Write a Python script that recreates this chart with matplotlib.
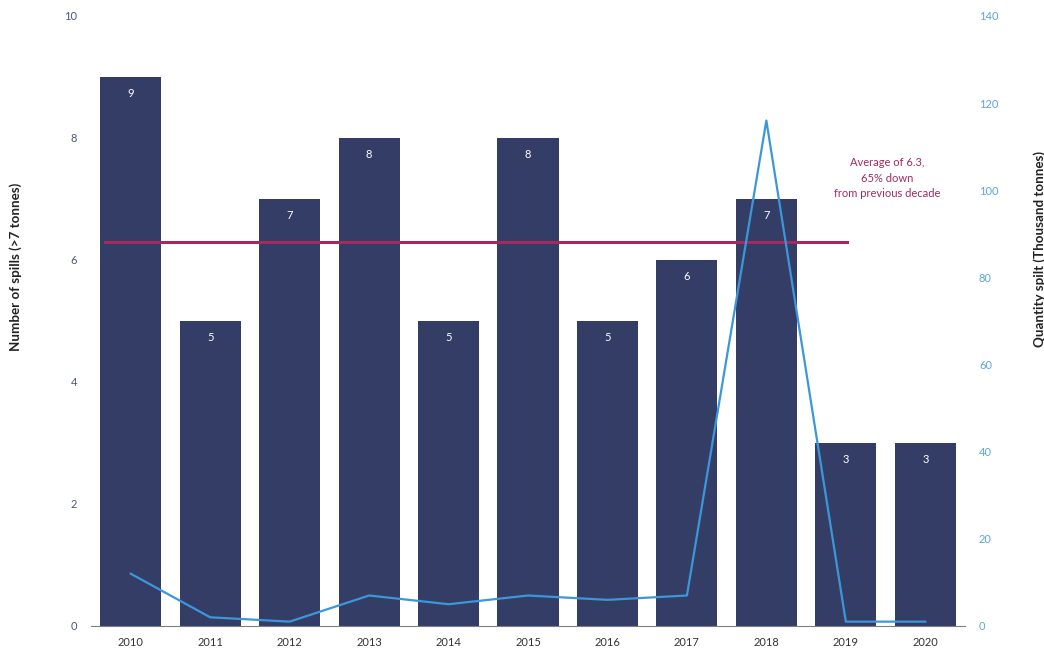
import numpy as np
import matplotlib
matplotlib.use("Agg")
import matplotlib.pyplot as plt

plt.rcParams['font.family'] = ['Lato', 'DejaVu Sans']

years = ['2010', '2011', '2012', '2013', '2014', '2015', '2016', '2017', '2018', '2019', '2020']
spills = [9, 5, 7, 8, 5, 8, 5, 6, 7, 3, 3]
quantity = [12, 2, 1, 7, 5, 7, 6, 7, 116, 1, 1]
average = 6.3
avg_text = "Average of 6.3,\n65% down\nfrom previous decade"

bar_color = '#343d66'
line_color = '#3b97d9'
avg_color = '#a3295f'
left_tick_color = '#4a5585'
right_tick_color = '#5aa5df'

fig = plt.figure(figsize=(10.44, 6.49), dpi=100)
ax = fig.add_axes([91 / 1044, 23 / 649, 874 / 1044, 610 / 649])
x = np.arange(len(years))

bars = ax.bar(x, spills, width=0.77, color=bar_color, zorder=2)
for xi, v in zip(x, spills):
    ax.text(xi, v - 0.27, str(v), ha='center', va='center', color='white', fontsize=8)

ax.plot([-0.33, 9.02], [average, average], color=avg_color, lw=2.2, zorder=3)
ax.text(9.52, 7.34, avg_text, ha='center', va='center', color=avg_color, fontsize=8, linespacing=1.5)

ax.set_xlim(-0.5, 10.5)
ax.set_ylim(0, 10)
ax.set_yticks(range(0, 11, 2))
ax.set_xticks(x)
ax.set_xticklabels(years)
for s in ['top', 'right', 'left']:
    ax.spines[s].set_visible(False)
ax.spines['bottom'].set_color('#7f7f7f')
ax.tick_params(axis='y', length=0, pad=10, labelsize=8, labelcolor=left_tick_color)
ax.tick_params(axis='x', length=0, pad=8, labelsize=8, labelcolor='#333333')
ax.set_ylabel("Number of spills (>7 tonnes)", fontsize=9.6, fontweight='bold', color='#222222')
ax.yaxis.set_label_coords(-0.079, 0.588)

ax2 = ax.twinx()
ax2.plot(x, quantity, color=line_color, lw=1.6, zorder=4)
ax2.set_ylim(0, 140)
ax2.set_yticks(range(0, 141, 20))
for s in ['top', 'right', 'left', 'bottom']:
    ax2.spines[s].set_visible(False)
ax2.tick_params(axis='y', length=0, pad=10, labelsize=8, labelcolor=right_tick_color)
ax2.set_ylabel("Quantity spilt (Thousand tonnes)", fontsize=9.6, fontweight='bold', color='#222222')
ax2.yaxis.set_label_coords(1.078, 0.618)

fig.savefig("out.png", dpi=100)
